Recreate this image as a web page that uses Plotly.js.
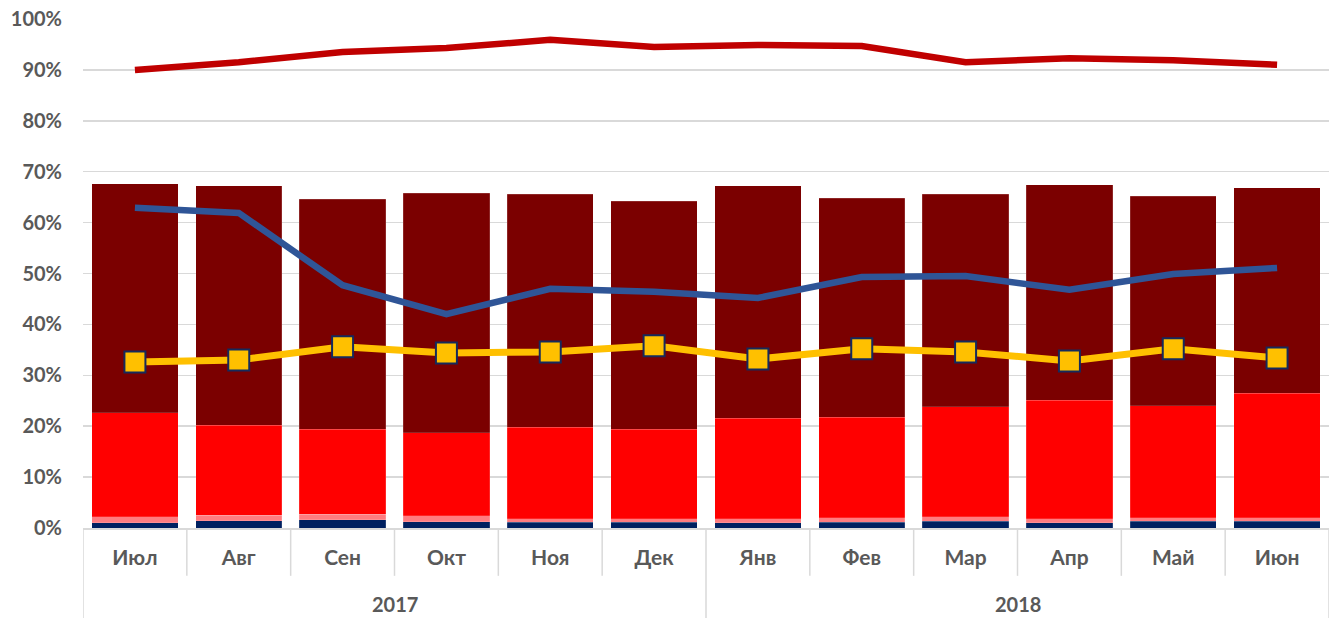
<!DOCTYPE html>
<html>
<head>
<meta charset="utf-8">
<script src="https://cdn.plot.ly/plotly-3.0.1.min.js"></script>
<style>html,body{margin:0;padding:0;background:#fff;}#chart{width:1338px;height:618px;}</style>
</head>
<body>
<div id="chart"></div>
<script>
const months = ["Июл","Авг","Сен","Окт","Ноя","Дек","Янв","Фев","Мар","Апр","Май","Июн"];
const yearLabels = ["2017","2018"];
const yearStart = [0, 6];   // index of first month of each year
const yearLen = [6, 6];

// cumulative tops (%)
const navyTop = [1.0, 1.4, 1.6, 1.2, 1.1, 1.1, 1.0, 1.1, 1.3, 1.0, 1.3, 1.3];
const pinkTop = [2.2, 2.5, 2.75, 2.4, 1.8, 1.8, 1.8, 2.0, 2.2, 1.8, 2.0, 2.0];
const redTop  = [22.6, 20.2, 19.4, 18.7, 19.8, 19.4, 21.6, 21.8, 23.8, 25.1, 24.0, 26.5];
const barTop  = [67.6, 67.2, 64.6, 65.8, 65.6, 64.2, 67.2, 64.8, 65.6, 67.4, 65.2, 66.8];

const redLine    = [90.0, 91.5, 93.5, 94.3, 95.9, 94.5, 94.9, 94.7, 91.5, 92.3, 91.9, 91.0];
const blueLine   = [62.9, 61.9, 47.7, 42.0, 47.0, 46.4, 45.2, 49.3, 49.5, 46.8, 49.9, 51.1];
const yellowLine = [32.6, 33.0, 35.6, 34.4, 34.6, 35.8, 33.2, 35.2, 34.6, 32.8, 35.2, 33.4];

const x = months;
const pct = a => a.map(v => v / 100);
const diff = (a, b) => a.map((v, i) => (v - b[i]) / 100);

const barLine = {color: "rgba(255,255,255,0.3)", width: 0.5};
const traces = [
  {type: "bar", x: x, y: pct(navyTop), marker: {color: "#002060", line: barLine}},
  {type: "bar", x: x, y: diff(pinkTop, navyTop), marker: {color: "#FF7C80", line: barLine}},
  {type: "bar", x: x, y: diff(redTop, pinkTop), marker: {color: "#FF0000", line: barLine}},
  {type: "bar", x: x, y: diff(barTop, redTop), marker: {color: "#7B0000", line: barLine}},
  {type: "scatter", mode: "lines", x: x, y: pct(redLine), line: {color: "#C00000", width: 6.5}},
  {type: "scatter", mode: "lines", x: x, y: pct(blueLine), line: {color: "#2F5597", width: 6.5}},
  {type: "scatter", mode: "lines+markers", x: x, y: pct(yellowLine), line: {color: "#FFC000", width: 7},
   marker: {symbol: "square", size: 21, color: "#FFC000", line: {color: "#152A5C", width: 2}}}
];

const font = {family: "Lato, 'Open Sans', sans-serif", size: 20, color: "#595959", weight: "bold"};
const monthFont = Object.assign({}, font, {size: 21});

const shapes = [];
for (let i = 0; i <= months.length; i++) {
  const isYearEdge = yearStart.includes(i) || i === months.length;
  shapes.push({type: "line", xref: "x", yref: "paper", x0: i - 0.5, x1: i - 0.5,
    y0: 0, y1: isYearEdge ? -0.2 : -0.094, line: {color: "#d9d9d9", width: 1.5}});
}
const annotations = yearLabels.map((t, k) => ({
  text: t, xref: "x", yref: "paper", x: yearStart[k] + (yearLen[k] - 1) / 2, y: -0.149,
  yanchor: "middle", xanchor: "center", showarrow: false, font: font
}));

const layout = {
  width: 1338, height: 618,
  margin: {l: 83, r: 9, t: 19, b: 90},
  barmode: "stack",
  bargap: 0.17,
  showlegend: false,
  plot_bgcolor: "#fff", paper_bgcolor: "#fff",
  font: font,
  shapes: shapes,
  annotations: annotations,
  xaxis: {
    type: "category", range: [-0.5, 11.5], automargin: false,
    showline: true, linecolor: "#d9d9d9", linewidth: 1.5,
    tickfont: monthFont, ticks: "", showgrid: false, ticklabelstandoff: 10
  },
  yaxis: {
    range: [0, 1], dtick: 0.1, tickformat: ".0%", automargin: false,
    showgrid: true, gridcolor: "#d9d9d9", gridwidth: 1.5,
    zeroline: false, showline: false, ticks: "", ticklabelstandoff: 20,
    tickfont: font
  }
};
Plotly.newPlot("chart", traces, layout, {displayModeBar: false, staticPlot: true});
</script>
</body>
</html>
